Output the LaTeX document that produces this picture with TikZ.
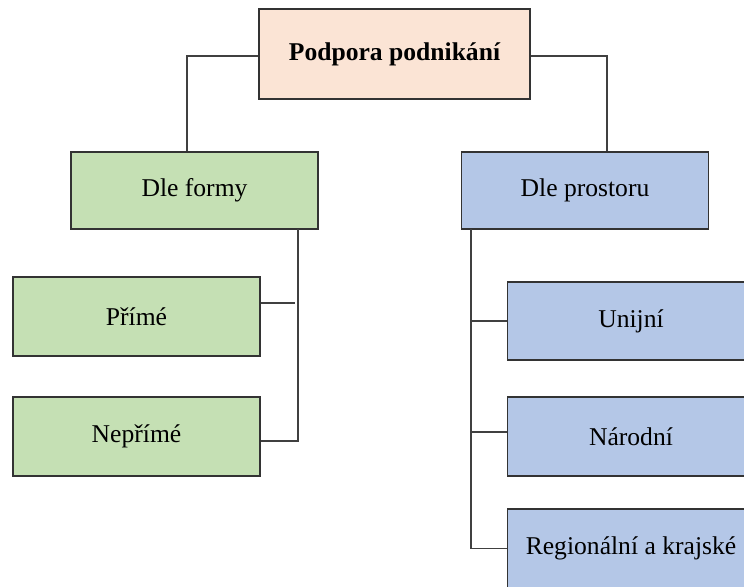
\documentclass[tikz,border=0pt]{standalone}
\usepackage{fontspec}
\setmainfont{Liberation Serif}
\usepackage{xcolor}
\definecolor{boxpeach}{RGB}{251,228,213}
\definecolor{boxgreen}{RGB}{197,224,180}
\definecolor{boxblue}{RGB}{180,199,231}

\tikzset{
  box/.style={draw=black!80, line width=0.8pt, inner sep=0pt, minimum width=123.5pt, minimum height=39.5pt, font=\fontsize{12.8pt}{15pt}\selectfont},
  link/.style={draw=black!75, line width=0.7pt}
}

\begin{document}
\begin{tikzpicture}[x=0.5pt,y=-0.5pt]

\clip (0,0) rectangle (744,586);

\node[box, fill=boxpeach, minimum width=135.5pt, minimum height=45pt, font=\fontsize{12.8pt}{15pt}\selectfont\bfseries] (top) at (394.5,54) {Podpora podnikání};

\node[box, fill=boxgreen, minimum height=38.5pt] (forma) at (194.5,190.5) {Dle formy};
\node[box, fill=boxblue, minimum height=38.5pt] (prostor) at (585,190.5) {Dle prostoru};

\node[box, fill=boxgreen] (prime) at (136.5,316.5) {Přímé};
\node[box, fill=boxgreen] (neprime) at (136.5,436.5) {Nepřímé};

\node[box, fill=boxblue, minimum height=39pt] (unijni) at (631,321) {Unijní};
\node[box, fill=boxblue] (narodni) at (631,436.5) {Národní};
\node[box, fill=boxblue] (region) at (631,548.5) {Regionální a krajské};

% vetve z korene
\draw[link] ([yshift=-1pt]top.west) -| ([xshift=-3.75pt]forma.north);
\draw[link] ([yshift=-1pt]top.east) -| ([xshift=11pt]prostor.north);

% dle formy
\coordinate (fbus) at (298,229);
\draw[link] (fbus) |- ([yshift=-2.25pt]neprime.east);
\draw[link] ([yshift=6.75pt]prime.east) -- ++(34,0);

% dle prostoru
\coordinate (pbus) at (471,229);
\draw[link] (pbus) |- (region.west);
\draw[link] (pbus |- unijni.west) -- (unijni.west);
\draw[link] ([yshift=2.25pt]pbus |- narodni.west) -- ([yshift=2.25pt]narodni.west);

\end{tikzpicture}
\end{document}
